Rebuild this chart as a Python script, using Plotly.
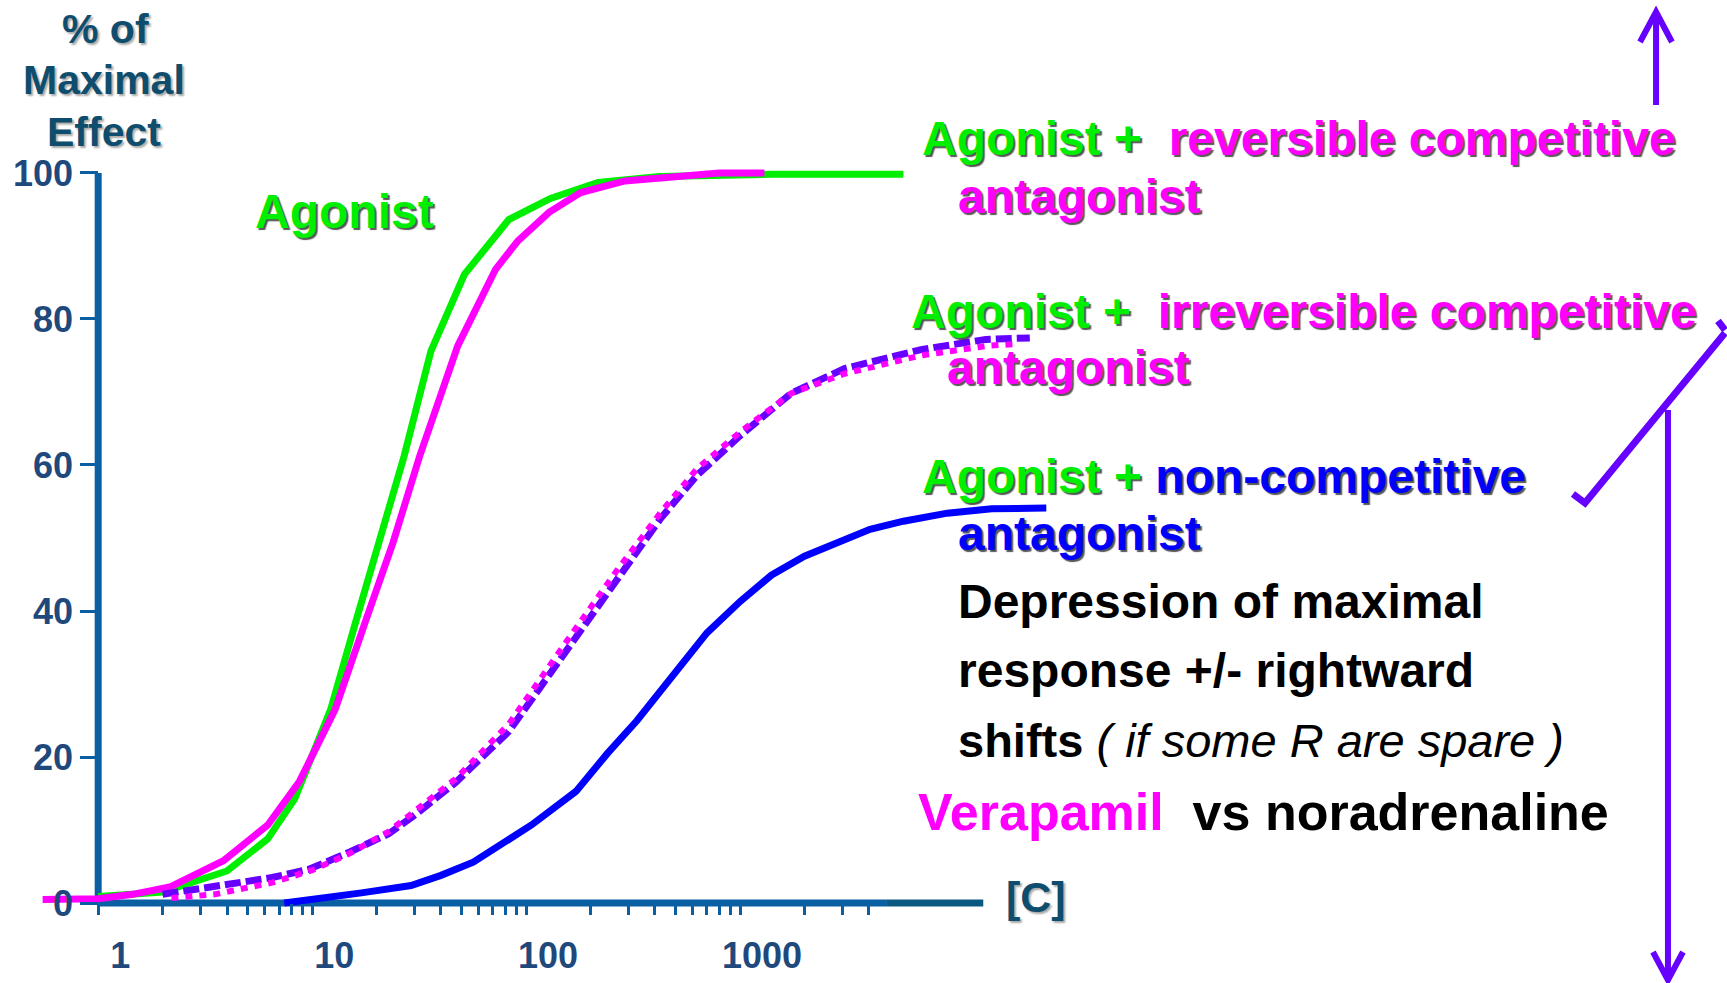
import plotly.graph_objects as go

# [C] values and % of maximal effect
agonist_c = [1, 2, 4, 6.2, 8.3, 10, 12.2, 15.9, 20.7, 26.9, 35.9, 51.5, 83, 130, 217, 420, 1400, 5800]
agonist_e = [0.9, 1.5, 4.4, 8.8, 14.3, 20, 26.5, 38.3, 50, 61.2, 75.6, 86.1, 93.6, 96.5, 98.7, 99.5, 99.8, 99.8]

reversible_c = [0.55, 1, 1.45, 2.16, 3.85, 6.2, 8.7, 12.8, 17.9, 23.9, 31.8, 47.9, 72, 91.6, 128, 180, 290, 500, 800, 1300]
reversible_e = [0.5, 0.6, 1.2, 2.2, 5.8, 10.7, 16.6, 26.5, 38.9, 49.4, 61.2, 76.3, 86.8, 90.7, 94.6, 97.3, 98.9, 99.6, 100, 100]

irreversible_c = [2.0, 2.4, 3.7, 6.5, 9.6, 15, 22.8, 30, 46.8, 83, 120, 156, 265, 426, 630, 1000, 1730, 3075, 7010, 14100, 22600]
irreversible_e = [1.2, 1.6, 2.4, 3.5, 4.6, 7.0, 9.5, 12, 16.5, 23.5, 30, 35, 44.2, 52.7, 58.6, 64, 69.8, 73.2, 75.8, 77.2, 77.4]

irreversible_dot_c = [2.2, 3.5, 6.5, 10, 15, 22.8, 46.8, 83, 156, 265, 426, 630, 1000, 1730, 3075, 7010, 14100, 20000]
irreversible_dot_e = [0.7, 1.2, 2.8, 4.5, 6.8, 9.8, 17, 24.5, 36, 45.5, 53.5, 59.5, 64.5, 69.8, 72.5, 75, 76.3, 76.6]

noncomp_c = [7.4, 11, 17, 29, 40, 56.6, 81, 106, 171, 240, 330, 500, 700, 1000, 1400, 2000, 2800, 4050, 5800, 9300, 15000, 27000]
noncomp_e = [0, 0.6, 1.4, 2.4, 3.8, 5.6, 8.5, 10.7, 15.3, 20.5, 25, 31.5, 37, 41.3, 44.9, 47.5, 49.3, 51.2, 52.3, 53.4, 54, 54.1]

x_tick_vals = [m * 10 ** d for d in range(3) for m in range(1, 10)] + [1000, 2000, 3000, 4000]
x_tick_text = [str(v) if v in (1, 10, 100, 1000) else "" for v in x_tick_vals]
y_tick_vals = [0, 20, 40, 60, 80, 100]

GREEN = "#00ee00"
MAGENTA = "#ff00ff"
BLUE = "#0000ff"
VIOLET = "#6600ff"
AXIS = "#0a5fa3"
TICK = "#1f497d"
TITLE = "#0e4d6e"

ARIAL = "Liberation Sans, Arial, sans-serif"

W, H = 1727, 983
ML, MR, MT, MB = 34, 666, 151, 58
X_RANGE = [-0.3, 4.5]
Y_RANGE = [-3, 103]


def paper(xp, yp):
    # pixel position on the page -> paper coordinates
    return (xp - ML) / (W - ML - MR), (H - MB - yp) / (H - MT - MB)


fig = go.Figure()

fig.add_trace(go.Scatter(x=agonist_c, y=agonist_e, mode="lines", line=dict(color=GREEN, width=7)))
fig.add_trace(go.Scatter(x=reversible_c, y=reversible_e, mode="lines", line=dict(color=MAGENTA, width=7)))
fig.add_trace(go.Scatter(x=irreversible_c, y=irreversible_e, mode="lines",
                         line=dict(color=VIOLET, width=7, dash="16px,5px")))
fig.add_trace(go.Scatter(x=irreversible_dot_c, y=irreversible_dot_e, mode="lines",
                         line=dict(color=MAGENTA, width=6, dash="7px,7px")))
fig.add_trace(go.Scatter(x=noncomp_c, y=noncomp_e, mode="lines", line=dict(color=BLUE, width=7)))

# axis lines
fig.add_shape(type="line", xref="x", yref="y", x0=1, x1=1, y0=0, y1=100,
              line=dict(color=AXIS, width=7), layer="below")
fig.add_shape(type="line", xref="x", yref="y", x0=1, x1=4860, y0=0, y1=0,
              line=dict(color=AXIS, width=7), layer="below")
fig.add_shape(type="line", xref="x", yref="y", x0=4860, x1=13700, y0=0, y1=0,
              line=dict(color="#0b5880", width=7), layer="below")


def add_path(points, width=6):
    pts = [paper(x, y) for x, y in points]
    d = "M " + " L ".join(f"{x:.4f},{y:.4f}" for x, y in pts)
    fig.add_shape(type="path", xref="paper", yref="paper", path=d,
                  line=dict(color=VIOLET, width=width))


# up arrow, down arrow and tick mark on the right
add_path([(1656, 105), (1656, 12)])
add_path([(1640, 42), (1656, 12), (1672, 42)])
add_path([(1668, 410), (1668, 978)])
add_path([(1653, 952), (1668, 980), (1683, 952)])
add_path([(1573, 494), (1585, 503), (1725, 333)], width=7)
add_path([(1718, 321), (1725, 330)], width=7)


def label(xp, yp, text, size, color, weight="bold", shadow="none", anchor="left"):
    x, y = paper(xp, yp)
    fig.add_annotation(x=x, y=y, xref="paper", yref="paper", text=text, showarrow=False,
                       xanchor=anchor, yanchor="middle",
                       font=dict(family=ARIAL, size=size, color=color, weight=weight, shadow=shadow))


TITLE_SHADOW = "2px 2px 2px rgba(110,110,110,0.6)"
LABEL_SHADOW = "2px 2px 1px rgba(30,30,30,0.75)"

label(105, 29, "% of", 41, TITLE, shadow=TITLE_SHADOW, anchor="center")
label(104, 80, "Maximal", 41, TITLE, shadow=TITLE_SHADOW, anchor="center")
label(104, 132, "Effect", 41, TITLE, shadow=TITLE_SHADOW, anchor="center")

label(253, 211, "Agonist", 48, GREEN, shadow=LABEL_SHADOW)
label(1004, 897, "[C]", 43, TITLE, shadow=TITLE_SHADOW)


def two_color(a, b, cb):
    return (f"<span style='color:{GREEN}'>{a}</span>"
            f"<span style='color:{cb}'>{b}</span>")


label(920, 138, two_color("Agonist +&nbsp; ", "reversible competitive", MAGENTA), 48, GREEN, shadow=LABEL_SHADOW)
label(956, 196, "antagonist", 48, MAGENTA, shadow=LABEL_SHADOW)
label(909, 311, two_color("Agonist +&nbsp; ", "irreversible competitive", MAGENTA), 48, GREEN, shadow=LABEL_SHADOW)
label(945, 367, "antagonist", 48, MAGENTA, shadow=LABEL_SHADOW)
label(920, 476, two_color("Agonist + ", "non-competitive", BLUE), 48, GREEN, shadow=LABEL_SHADOW)
label(956, 533, "antagonist", 48, BLUE, shadow=LABEL_SHADOW)

label(956, 601, "Depression of maximal", 48, "#000000")
label(956, 670, "response +/- rightward", 48, "#000000")
label(956, 740, "shifts <span style='font-weight:normal'><i>( if some R are spare )</i></span>", 47, "#000000")
label(916, 812, f"<span style='color:{MAGENTA}'>Verapamil</span>&nbsp; vs noradrenaline", 52, "#000000")

fig.update_layout(
    width=W,
    height=H,
    margin=dict(l=ML, r=MR, t=MT, b=MB),
    plot_bgcolor="white",
    paper_bgcolor="white",
    showlegend=False,
    xaxis=dict(
        type="log",
        range=X_RANGE,
        anchor="free",
        position=(0 - Y_RANGE[0]) / (Y_RANGE[1] - Y_RANGE[0]),
        automargin=False,
        showline=False,
        showgrid=False,
        zeroline=False,
        tickmode="array",
        tickvals=x_tick_vals,
        ticktext=x_tick_text,
        ticks="outside",
        ticklen=11,
        tickwidth=2.5,
        tickcolor=AXIS,
        ticklabelshift=22,
        ticklabelstandoff=10,
        tickfont=dict(family=ARIAL, size=36, color=TICK, weight="bold"),
    ),
    yaxis=dict(
        range=Y_RANGE,
        anchor="free",
        position=(0 - X_RANGE[0]) / (X_RANGE[1] - X_RANGE[0]),
        automargin=False,
        showline=False,
        showgrid=False,
        zeroline=False,
        tickmode="array",
        tickvals=y_tick_vals,
        ticks="outside",
        ticklen=18,
        tickwidth=3,
        tickcolor=AXIS,
        ticklabelstandoff=0,
        tickfont=dict(family=ARIAL, size=36, color=TICK, weight="bold"),
    ),
)

fig.write_html("out.html", config={"displayModeBar": False},
               post_script="document.body.style.margin='0px';")
